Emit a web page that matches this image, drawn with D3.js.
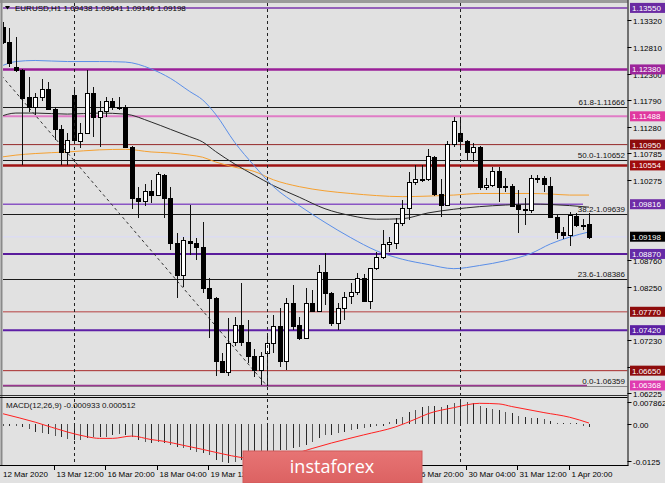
<!DOCTYPE html>
<html><head><meta charset="utf-8">
<script src="https://cdn.jsdelivr.net/npm/d3@7/dist/d3.min.js"></script>
<style>
html,body{margin:0;padding:0;background:#e1e1e1;}
svg{display:block;}
text{font-family:"Liberation Sans",Arial,sans-serif;font-size:8px;}
</style></head><body>
<svg id="chart" width="665" height="483"></svg>
<script>
// ---------- DATA ----------
const symbol = "EURUSD,H1";
const headerValues = ["1.09438","1.09641","1.09146","1.09198"];
const candleOpen = [1.1319,1.1291,1.1243,1.1237,1.1185,1.1167,1.1185,1.1201,1.1162,1.1124,
1.1080,1.1190,1.1101,1.1117,1.1193,1.1148,1.1158,1.1177,1.1167,1.1167,
1.1091,1.0994,1.0987,1.1007,1.0999,1.1038,1.0994,1.0907,1.0847,1.0912,
1.0908,1.0901,1.0823,1.0803,1.0684,1.0663,1.0720,1.0752,1.0720,1.0692,
1.0666,1.0698,1.0717,1.0750,1.0684,1.0794,1.0752,1.0728,1.0794,1.0779,
1.0853,1.0812,1.0756,1.0785,1.0807,1.0815,1.0842,1.0798,1.0860,1.0881,
1.0906,1.0908,1.0946,1.0975,1.1023,1.1030,1.1029,1.1072,1.1001,1.0980,
1.1097,1.1118,1.1102,1.1080,1.1091,1.1014,1.1018,1.1045,1.1016,1.1016,
1.0980,1.0972,1.0971,1.1031,1.1031,1.1016,1.0957,1.0929,1.0923,1.0959,
1.0943,1.09438];
const candleHigh = [1.1329,1.1316,1.1300,1.1239,1.1224,1.1193,1.1219,1.1215,1.1167,1.1132,
1.1117,1.1199,1.1136,1.1237,1.1205,1.1177,1.1185,1.1183,1.1185,1.1170,
1.1092,1.1015,1.1020,1.1028,1.1043,1.1039,1.1015,1.0926,1.0920,1.0980,
1.0917,1.0948,1.0841,1.0805,1.0698,1.0765,1.0768,1.0832,1.0761,1.0707,
1.0701,1.0736,1.0771,1.0785,1.0803,1.0828,1.0768,1.0822,1.0818,1.0866,
1.0888,1.0814,1.0793,1.0815,1.0832,1.0850,1.0849,1.0860,1.0891,1.0933,
1.0920,1.0955,1.0990,1.1042,1.1056,1.1056,1.1086,1.1073,1.1029,1.1102,
1.1148,1.1145,1.1104,1.1098,1.1092,1.1031,1.1053,1.1053,1.1031,1.1020,
1.1009,1.0993,1.1037,1.1037,1.1035,1.1033,1.0961,1.0939,1.0967,1.0965,
1.0954,1.09641];
const candleLow = [1.1286,1.1243,1.1234,1.1056,1.1157,1.1151,1.1177,1.1161,1.1104,1.1056,
1.1056,1.1100,1.1088,1.1115,1.1110,1.1091,1.1148,1.1161,1.1161,1.1090,
1.0972,1.0955,1.0978,1.0983,1.0997,1.0955,1.0895,1.0803,1.0825,1.0885,
1.0875,1.0812,1.0727,1.0655,1.0660,1.0655,1.0712,1.0712,1.0679,1.0653,
1.0638,1.0636,1.0698,1.0672,1.0666,1.0742,1.0723,1.0727,1.0777,1.0777,
1.0790,1.0750,1.0742,1.0761,1.0792,1.0809,1.0796,1.0783,1.0856,1.0877,
1.0891,1.0896,1.0940,1.0952,1.1018,1.1024,1.1026,1.0997,1.0957,1.0980,
1.1091,1.1088,1.1066,1.1062,1.1009,1.1009,1.1014,1.0986,1.1005,1.0978,
1.0926,1.0942,1.0964,1.1021,1.1005,1.0956,1.0915,1.0915,1.0902,1.0939,
1.0932,1.09146];
const candleClose = [1.1291,1.1250,1.1237,1.1183,1.1167,1.1185,1.1201,1.1162,1.1124,1.1080,
1.1104,1.1104,1.1117,1.1193,1.1148,1.1158,1.1177,1.1167,1.1165,1.1091,
1.0994,1.0987,1.1007,1.0999,1.1040,1.0994,1.0907,1.0847,1.0914,1.0908,
1.0901,1.0823,1.0803,1.0684,1.0663,1.0718,1.0752,1.0720,1.0692,1.0666,
1.0692,1.0717,1.0749,1.0684,1.0794,1.0750,1.0728,1.0794,1.0779,1.0853,
1.0812,1.0756,1.0785,1.0806,1.0815,1.0842,1.0798,1.0860,1.0881,1.0906,
1.0909,1.0946,1.0975,1.1023,1.1030,1.1028,1.1073,1.1001,1.0980,1.1097,
1.1139,1.1102,1.1080,1.1091,1.1014,1.1018,1.1045,1.1014,1.1014,1.0978,
1.0972,1.0971,1.1031,1.1030,1.1020,1.0957,1.0929,1.0923,1.0961,1.0942,
1.0943,1.09198];

// moving averages, read at these bar positions
const maBars =   [-0.5, 2, 5, 10, 15, 19, 23, 26, 29, 31, 33, 36, 39, 42, 46, 50, 54, 58, 62, 66, 70, 74, 78, 82, 85, 88, 91];
const maBlue =   [1.1243,1.1253,1.1255,1.1253,1.1253,1.1252,1.1239,1.1221,1.1196,1.1180,1.1153,1.1099,1.1055,1.1015,1.0979,1.0947,1.0918,1.0893,1.0877,1.0867,1.0859,1.0865,1.0874,1.0888,1.0906,1.0919,1.0929];
const maBlack =  [1.1148,1.1155,1.1155,1.1153,1.1155,1.1153,1.1138,1.1124,1.1110,1.1100,1.1082,1.1058,1.1037,1.1017,1.0995,1.0973,1.0960,1.0953,1.0954,1.0965,1.0972,1.0977,1.0980,1.0982,1.0981,1.0979,1.0976];
const maOrange = [1.1071,1.1075,1.1078,1.1081,1.1085,1.1086,1.1081,1.1079,1.1075,1.1071,1.1062,1.1052,1.1044,1.1028,1.1015,1.1007,1.1002,1.0998,1.0996,1.0997,1.0999,1.1002,1.1002,1.1002,1.1001,1.0999,1.0999];

// horizontal levels
const levelValues = [1.13550,1.12380,1.11488,1.10950,1.10554,1.09816,1.09198,1.08870,1.07770,1.07420,1.06650,1.06368];
// fibonacci retracement
const fibNames  = ["61.8","50.0","38.2","23.6","0.0"];
const fibValues = [1.11666,1.10652,1.09639,1.08386,1.06359];
const fibTrendBars   = [-19, 41];
const fibTrendPrices = [1.14946, 1.06359];

// price axis tick labels (the ones visible beside the level boxes)
const priceTicks = [1.13320,1.12810,1.12300,1.11790,1.11280,1.10785,1.10275,1.08760,1.08250,1.07230,1.06720,1.06225];

// time axis (labels visible around the watermark)
const timeLabelBars = [0,8,16,24,32,64,72,80,88];
const timeLabels = ["12 Mar 2020","13 Mar 12:00","16 Mar 20:00","18 Mar 04:00","19 Mar 12:00","26 Mar 20:00","30 Mar 04:00","31 Mar 12:00","1 Apr 20:00"];
const separatorBars = [11,41,71];

// MACD
const macdTitle = "MACD(12,26,9) -0.000933 0.000512";
const macdHist = [-0.0002,-0.0002,-0.0002,-0.0007,-0.0017,-0.0025,-0.0028,-0.0033,-0.0040,-0.0044,
-0.0051,-0.0053,-0.0053,-0.0048,-0.0042,-0.0042,-0.0042,-0.0036,-0.0033,-0.0036,
-0.0042,-0.0053,-0.0059,-0.0065,-0.0059,-0.0065,-0.0071,-0.0076,-0.0082,-0.0088,
-0.0094,-0.0097,-0.0105,-0.0122,-0.0128,-0.0132,-0.0128,-0.0122,-0.0117,-0.0112,
-0.0108,-0.0103,-0.0100,-0.0088,-0.0088,-0.0082,-0.0076,-0.0071,-0.0059,-0.0048,
-0.0036,-0.0036,-0.0030,-0.0025,-0.0019,-0.0017,-0.0013,-0.0008,-0.0003,-0.0002,
0.0010,0.0018,0.0027,0.0044,0.0050,0.0061,0.0064,0.0064,0.0061,0.0067,
0.0073,0.0079,0.0079,0.0073,0.0064,0.0056,0.0052,0.0050,0.0044,0.0039,
0.0029,0.0025,0.0021,0.0021,0.0018,0.0013,0.0006,0.0002,0.0002,0.0002,
-0.0003,-0.0009];
const signalBars =   [0,5,10,13,15,17,20,23,25,28,31,34,37,40,44,48,51,56,61,64,66,70,74,77,79,84,88,91];
const signalValues = [0.0037,0.0008,-0.0026,-0.0042,-0.0048,-0.0048,-0.0040,-0.0052,-0.0058,-0.0072,-0.0086,-0.0101,-0.0114,-0.0119,-0.0108,-0.0083,-0.0064,-0.0036,-0.0008,0.0018,0.0037,0.0058,0.0073,0.0071,0.0062,0.0041,0.0025,0.0005];
const macdTicks = [0.007862, 0.0, -0.0125];
const macdTickLabels = ["0.007862","0.00","-0.0125"];
const watermark = "instaforex";

// ---------- STYLE ----------
const levelStyle = [
  {line:"#7a35ab", w:1.5, box:"#6a2aa2"},
  {line:"#9a1f98", w:2.5, box:"#9c249a"},
  {line:"#e07cc6", w:2,   box:"#e0399f"},
  {line:"#962a2a", w:1,   box:"#8e0c0c"},
  {line:"#a01414", w:2.5, box:"#a00c0c"},
  {line:"#8a55c4", w:1.5, box:"#6f2ca6"},
  {line:"#dcdcf2", w:1.5, box:"#000000"},
  {line:"#5a1c9c", w:2,   box:"#652aa6"},
  {line:"#c47676", w:1.5, box:"#8e0c0c"},
  {line:"#5e1fa6", w:2,   box:"#5c20a2"},
  {line:"#a82a2a", w:1,   box:"#8e0c0c"},
  {line:"#9a3690", w:1.5, box:"#e03cb0"}
];
const levelEnd = {5:583, 11:587};

// ---------- DRAW ----------
const svg = d3.select("#chart");
const x = d3.scaleLinear().domain([0,91]).range([3,589]);
const y = d3.scaleLinear().domain([1.06225,1.13320]).range([393,20]);
const ym = d3.scaleLinear().domain([-0.0125,0.007862]).range([460.7,401.7]);
const L=3, R=627.5, T=3, B=395, MT=397, MB=465;

svg.append("rect").attr("width",665).attr("height",483).attr("fill","#e1e1e1");
const defs = svg.append("defs");
defs.append("clipPath").attr("id","cm").append("rect").attr("x",L).attr("y",T).attr("width",R-L).attr("height",B-T);
defs.append("clipPath").attr("id","cd").append("rect").attr("x",L).attr("y",MT).attr("width",R-L).attr("height",MB-MT);

const main = svg.append("g").attr("clip-path","url(#cm)");
const macd = svg.append("g").attr("clip-path","url(#cd)");

// fib lines
fibValues.forEach((v,i)=>{
  const yy = Math.round(y(v))+0.5;
  main.append("line").attr("x1",L).attr("x2",R).attr("y1",yy).attr("y2",yy)
    .attr("stroke", i===4 ? "#8a8a8a" : "#1a1a1a").attr("stroke-width",1);
});
// level lines
levelValues.forEach((v,i)=>{
  const st = levelStyle[i];
  const yy = y(v);
  main.append("line").attr("x1",L).attr("x2",levelEnd[i]||R).attr("y1",yy).attr("y2",yy)
    .attr("stroke",st.line).attr("stroke-width",st.w);
});
// fib trend line
main.append("path")
  .attr("d", d3.line()([[x(fibTrendBars[0]),y(fibTrendPrices[0])],[x(fibTrendBars[1]),y(fibTrendPrices[1])]]))
  .attr("stroke","#333").attr("stroke-width",1).attr("stroke-dasharray","3,3").attr("fill","none");

// separators
separatorBars.forEach(b=>{
  const xx = Math.round(x(b))+0.5;
  svg.append("line").attr("x1",xx).attr("x2",xx).attr("y1",T).attr("y2",MB)
    .attr("stroke","#222").attr("stroke-width",1).attr("stroke-dasharray","3,3");
});

// moving averages
const maLine = d3.line().x((d,i)=>x(maBars[i])).y(d=>y(d)).curve(d3.curveMonotoneX);
[[maOrange,"#f5a030"],[maBlack,"#2a2a2a"],[maBlue,"#5a8ee8"]].forEach(([arr,c])=>{
  main.append("path").attr("d",maLine(arr)).attr("fill","none").attr("stroke",c).attr("stroke-width",1);
});

// candles
const cg = main.append("g").attr("shape-rendering","crispEdges");
candleOpen.forEach((o,i)=>{
  const c = candleClose[i], h = candleHigh[i], l = candleLow[i];
  const cx = Math.round(x(i));
  cg.append("line").attr("x1",cx+0.5).attr("x2",cx+0.5).attr("y1",y(h)).attr("y2",y(l))
    .attr("stroke","#111").attr("stroke-width",1);
  const top = Math.round(y(Math.max(o,c))), bot = Math.round(y(Math.min(o,c)));
  const bull = c > o;
  cg.append("rect").attr("x",cx-1.5).attr("y",top+0.5).attr("width",4).attr("height",Math.max(1,bot-top))
    .attr("fill", bull ? "#ffffff" : "#000000").attr("stroke","#000").attr("stroke-width",1);
});

// MACD
const hg = macd.append("g").attr("shape-rendering","crispEdges");
macdHist.forEach((v,i)=>{
  const xx = Math.round(x(i))+0.5;
  hg.append("line").attr("x1",xx).attr("x2",xx).attr("y1",ym(0)).attr("y2",ym(v) + (Math.abs(ym(v)-ym(0))<1 ? (v<0?1:-1) : 0))
    .attr("stroke", i%2 ? "#2a2a2a" : "#555555").attr("stroke-width",1);
});
macd.append("path").attr("d", d3.line().x((d,i)=>x(signalBars[i])).y(d=>ym(d)).curve(d3.curveMonotoneX)(signalValues))
  .attr("fill","none").attr("stroke","#ff2020").attr("stroke-width",1);

// panel borders
svg.append("line").attr("x1",0).attr("x2",R).attr("y1",1.5).attr("y2",1.5).attr("stroke","#9a9a9a").attr("stroke-width",3);
svg.append("line").attr("x1",1.5).attr("x2",1.5).attr("y1",0).attr("y2",MB).attr("stroke","#8a8a8a").attr("stroke-width",2);
svg.append("line").attr("x1",R+0.5).attr("x2",R+0.5).attr("y1",0).attr("y2",MB+0.5).attr("stroke","#000");
svg.append("line").attr("x1",0).attr("x2",R).attr("y1",B+0.5).attr("y2",B+0.5).attr("stroke","#333");
svg.append("line").attr("x1",0).attr("x2",R).attr("y1",MT+0.5).attr("y2",MT+0.5).attr("stroke","#000");
svg.append("line").attr("x1",0).attr("x2",R+1).attr("y1",MB+0.5).attr("y2",MB+0.5).attr("stroke","#000");

// header
svg.append("path").attr("d","M5,6 L10,6 L7.5,9.5 Z").attr("fill","#000");
svg.append("text").attr("x",15).attr("y",11).attr("fill","#000")
  .text(symbol + "  " + headerValues.join(" "));

// fib labels
fibValues.forEach((v,i)=>{
  svg.append("text").attr("x",625).attr("y",y(v)-2).attr("text-anchor","end").attr("fill","#111")
    .text(fibNames[i] + "-" + v.toFixed(5));
});

// price axis
priceTicks.forEach(v=>{
  const yy = Math.round(y(v))+0.5;
  svg.append("line").attr("x1",R).attr("x2",R+4).attr("y1",yy).attr("y2",yy).attr("stroke","#000");
  svg.append("text").attr("x",633).attr("y",yy+3).attr("fill","#000").text(v.toFixed(5));
});
levelValues.forEach((v,i)=>{
  const yy = y(v);
  svg.append("rect").attr("x",630).attr("y",yy-5).attr("width",35).attr("height",10).attr("fill",levelStyle[i].box);
  svg.append("text").attr("x",632).attr("y",yy+3).attr("fill","#fff").text(v.toFixed(5));
});

// MACD axis + title
macdTicks.forEach((v,i)=>{
  const yy = Math.round(ym(v))+0.5;
  svg.append("line").attr("x1",R).attr("x2",R+4).attr("y1",yy).attr("y2",yy).attr("stroke","#000");
  svg.append("text").attr("x",633).attr("y",yy+3).attr("fill","#000").text(macdTickLabels[i]);
});
svg.append("text").attr("x",6).attr("y",408).attr("fill","#111").text(macdTitle);

// time axis
timeLabelBars.forEach((b,i)=>{
  const xx = Math.round(x(b))-0.5;
  if (i>0) svg.append("line").attr("x1",xx).attr("x2",xx).attr("y1",MB).attr("y2",MB+5).attr("stroke","#000");
  svg.append("text").attr("x", i===0 ? 3 : xx+2).attr("y",477).attr("fill","#000").text(timeLabels[i]);
});

// watermark
const wgr = defs.append("linearGradient").attr("id","wm").attr("x1",0).attr("x2",0).attr("y1",0).attr("y2",1);
wgr.append("stop").attr("offset","0").attr("stop-color","#e77474");
wgr.append("stop").attr("offset","1").attr("stop-color","#dc6262");
svg.append("rect").attr("x",243).attr("y",451).attr("width",179).attr("height",32).attr("fill","url(#wm)")
  .attr("stroke","#d05a5a").attr("stroke-width",1);
svg.append("text").attr("x",332).attr("y",473).attr("text-anchor","middle").attr("fill","#fff")
  .style("font-family","'Open Sans','Noto Sans',sans-serif").style("font-size","18px").text(watermark);
</script>
</body></html>
